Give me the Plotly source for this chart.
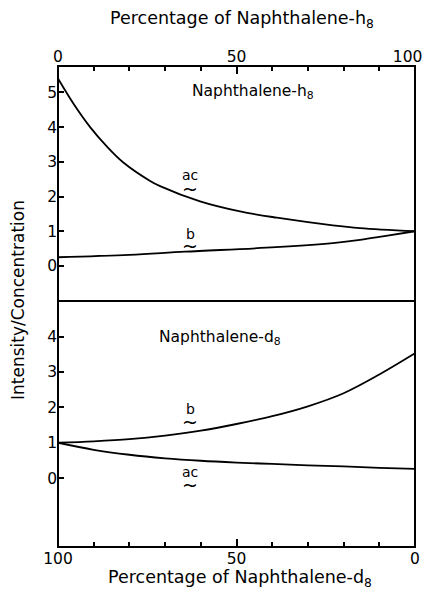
import plotly.graph_objects as go

# Naphthalene-h8 panel: x = percentage of naphthalene-h8
h8_ac_x = [0, 4.3, 9.0, 13.6, 18.3, 25.8, 28.6, 39.8, 51, 61.3, 77, 84.6, 100]
h8_ac_y = [5.40, 4.68, 4.00, 3.45, 2.98, 2.45, 2.30, 1.86, 1.57, 1.39, 1.17, 1.09, 1.0]
h8_b_x = [0, 20, 35.6, 61, 77, 84.6, 91, 100]
h8_b_y = [0.25, 0.32, 0.41, 0.54, 0.66, 0.75, 0.85, 1.0]

# Naphthalene-d8 panel: x = percentage of naphthalene-d8
d8_b_x = [100, 90, 80, 70, 60, 50, 40, 30, 20, 10, 0]
d8_b_y = [1.0, 1.04, 1.10, 1.20, 1.34, 1.53, 1.75, 2.03, 2.40, 2.93, 3.53]
d8_ac_x = [100, 90, 80, 70, 60, 50, 40, 30, 20, 10, 0]
d8_ac_y = [1.0, 0.80, 0.66, 0.56, 0.49, 0.44, 0.40, 0.36, 0.33, 0.29, 0.26]

top_ticks = [0, 50, 100]
top_ticktext = ["0", "50", "100\u00a0\u00a0\u00a0"]
bottom_ticktext = ["0", "50", "100"]
h8_yticks = [0, 1, 2, 3, 4, 5]
d8_yticks = [0, 1, 2, 3, 4]

FONT = "DejaVu Sans"
INK = "black"
line = dict(color=INK, width=1.8, shape="spline", smoothing=1.0)

fig = go.Figure()
fig.add_trace(go.Scatter(x=h8_ac_x, y=h8_ac_y, mode="lines", line=line, xaxis="x", yaxis="y"))
fig.add_trace(go.Scatter(x=h8_b_x, y=h8_b_y, mode="lines", line=line, xaxis="x", yaxis="y"))
fig.add_trace(go.Scatter(x=d8_b_x, y=d8_b_y, mode="lines", line=line, xaxis="x2", yaxis="y2"))
fig.add_trace(go.Scatter(x=d8_ac_x, y=d8_ac_y, mode="lines", line=line, xaxis="x2", yaxis="y2"))

split = 246 / 481
tickfont = dict(family=FONT, size=15.5, color=INK)

common_x = dict(
    showline=False, automargin=False, ticklabeloverflow="allow",
    ticks="inside", ticklen=8, tickwidth=1.5, tickcolor=INK,
    tickvals=top_ticks, showgrid=False, zeroline=False,
    tickfont=tickfont,
    minor=dict(ticks="inside", ticklen=5, tickwidth=1.5, tickcolor=INK, dtick=10, showgrid=False),
)
common_y = dict(
    showline=False, automargin=False,
    ticks="inside", ticklen=6, tickwidth=1.5, tickcolor=INK,
    showgrid=False, zeroline=False, tickfont=tickfont,
)

# outer frame and the divider between the two panels
frame = dict(type="line", xref="paper", yref="paper", line=dict(color=INK, width=2))
shapes = [
    dict(type="rect", xref="paper", yref="paper", x0=0, x1=1, y0=0, y1=1,
         line=dict(color=INK, width=2)),
    dict(frame, x0=0, x1=1, y0=split, y1=split),
]

fig.update_layout(
    width=428, height=593,
    margin=dict(l=58, r=13, t=66, b=46),
    paper_bgcolor="white", plot_bgcolor="white",
    showlegend=False,
    font=dict(family=FONT, color=INK),
    xaxis=dict(common_x, range=[0, 100], side="top", anchor="y", ticktext=top_ticktext),
    yaxis=dict(common_y, range=[-1.01, 5.76], tickvals=h8_yticks, domain=[split, 1], anchor="x"),
    xaxis2=dict(common_x, range=[100, 0], side="bottom", anchor="y2", ticktext=bottom_ticktext),
    yaxis2=dict(common_y, range=[-1.95, 5.01], tickvals=d8_yticks, domain=[0, split], anchor="x2"),
    shapes=shapes,
)

ann = []
def label(text, x, y, xref, yref, size=15, **kw):
    ann.append(dict(text=text, x=x, y=y, xref=xref, yref=yref, showarrow=False,
                    font=dict(family=FONT, size=size, color=INK), **kw))

# axis titles
label("Percentage of Naphthalene-h<sub>8</sub>", 0.515, 1.0 + 46 / 481, "paper", "paper", size=17.5,
      xanchor="center", yanchor="middle")
label("Percentage of Naphthalene-d<sub>8</sub>", 0.51, -31 / 481, "paper", "paper", size=17.5,
      xanchor="center", yanchor="middle")
label("Intensity/Concentration", -40 / 357, (547 - 300) / 481, "paper", "paper", size=17,
      textangle=-90, xanchor="center", yanchor="middle")

# panel titles
label("Naphthalene-h<sub>8</sub>", 54.5, 5.0, "x", "y", size=15.5)
label("Naphthalene-d<sub>8</sub>", 54.5, 3.95, "x2", "y2", size=15.5)

# curve labels, each with a tilde underscore
label("ac", 37, 2.62, "x", "y", size=14)
label("~", 37, 2.22, "x", "y", size=19)
label("b", 37, 0.92, "x", "y", size=14)
label("~", 37, 0.58, "x", "y", size=19)
label("b", 63, 1.96, "x2", "y2", size=14)
label("~", 63, 1.60, "x2", "y2", size=19)
label("ac", 63, 0.16, "x2", "y2", size=14)
label("~", 63, -0.20, "x2", "y2", size=19)

fig.update_layout(annotations=ann)
fig.write_html("out.html")
